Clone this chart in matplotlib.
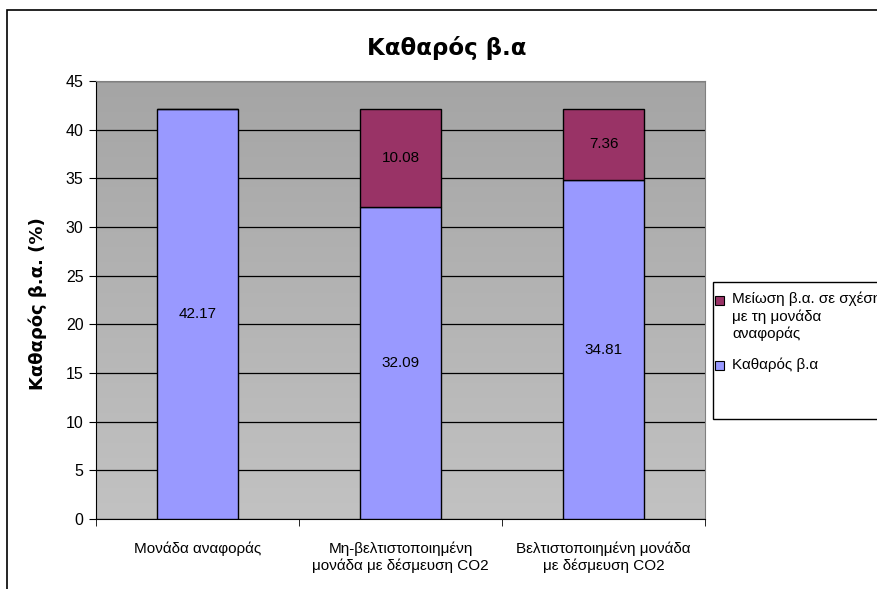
import numpy as np
import matplotlib.pyplot as plt
from matplotlib.patches import Rectangle
from matplotlib.colors import LinearSegmentedColormap

plt.rcParams['font.family'] = ['Liberation Sans', 'DejaVu Sans']

categories = ['Μονάδα αναφοράς',
              'Μη-βελτιστοποιημένη\nμονάδα με δέσμευση CO2',
              'Βελτιστοποιημένη μονάδα\nμε δέσμευση CO2']
net_eff = [42.17, 32.09, 34.81]
reduction = [0.0, 10.08, 7.36]
series_names = ['Μείωση β.α. σε σχέση\nμε τη μονάδα\nαναφοράς', 'Καθαρός β.α']
c_net = '#9999ff'
c_red = '#993366'

W, H = 877, 589
fig = plt.figure(figsize=(W / 100, H / 100), dpi=100)
ax = fig.add_axes([96 / W, 1 - 519 / H, (705 - 96) / W, (519 - 81) / H])

# outer chart border, cut off at right and bottom
fig.patches.append(Rectangle((7 / W, -0.2), 1.2, 1.2 - 10 / H,
                             transform=fig.transFigure, fill=False,
                             edgecolor='black', linewidth=1.2))

# gray gradient background
grad = np.linspace(0, 1, 256).reshape(-1, 1)
ax.imshow(grad, extent=[0, 1, 0, 1], transform=ax.transAxes, aspect='auto',
          cmap=LinearSegmentedColormap.from_list('g', ['#c2c2c2', '#a5a5a5']),
          origin='lower', zorder=0)

x = np.arange(len(categories))
ax.bar(x, net_eff, width=0.4, color=c_net, edgecolor='black',
       linewidth=1, zorder=3)
ax.bar(x, reduction, width=0.4, bottom=net_eff, color=c_red,
       edgecolor='black', linewidth=1, zorder=3)

for i in range(len(x)):
    ax.text(x[i], net_eff[i] / 2, f'{net_eff[i]:.2f}', ha='center',
            va='center', fontsize=11, zorder=4)
    if reduction[i] > 0:
        ax.text(x[i], net_eff[i] + reduction[i] / 2, f'{reduction[i]:.2f}',
                ha='center', va='center', fontsize=11, zorder=4)

ax.set_xlim(-0.5, 2.5)
ax.set_ylim(0, 45)
ax.set_yticks(range(0, 46, 5))
ax.yaxis.grid(True, color='black', linewidth=0.9, zorder=1)
ax.set_axisbelow(True)

ax.set_xticks(x)
ax.set_xticklabels(categories, fontsize=11)
ax.set_xticks([-0.5, 0.5, 1.5, 2.5], minor=True)
ax.tick_params(axis='x', which='major', length=0, pad=16)
ax.tick_params(axis='x', which='minor', length=5, direction='out')
ax.tick_params(axis='y', length=5, direction='out', labelsize=11.5, pad=4)

for s in ['left', 'bottom']:
    ax.spines[s].set_color('black')
for s in ['top', 'right']:
    ax.spines[s].set_color('#808080')

fig.text(38 / W, 1 - 304 / H, 'Καθαρός β.α. (%)', rotation=90,
         ha='center', va='center', fontsize=13, fontweight='bold',
         family='DejaVu Sans')
fig.text(447 / W, 1 - 48 / H, 'Καθαρός β.α', ha='center', va='center',
         fontsize=16.5, fontweight='bold', family='DejaVu Sans')

# legend box (runs past the right edge, as in the original)
fig.patches.append(Rectangle((713 / W, 1 - 419 / H), 0.3, 137 / H,
                             transform=fig.transFigure, facecolor='white',
                             edgecolor='black', linewidth=1))
leg_colors = [c_red, c_net]
leg_y = [300, 365]
for name, col, yy in zip(series_names, leg_colors, leg_y):
    fig.patches.append(Rectangle((715 / W, 1 - (yy + 4.5) / H), 9 / W, 9 / H,
                                 transform=fig.transFigure, facecolor=col,
                                 edgecolor='black', linewidth=0.8))
    fig.text(732 / W, 1 - (yy - 8) / H, name, ha='left', va='top',
             fontsize=11, linespacing=1.25)

fig.savefig('out.png', dpi=100)
